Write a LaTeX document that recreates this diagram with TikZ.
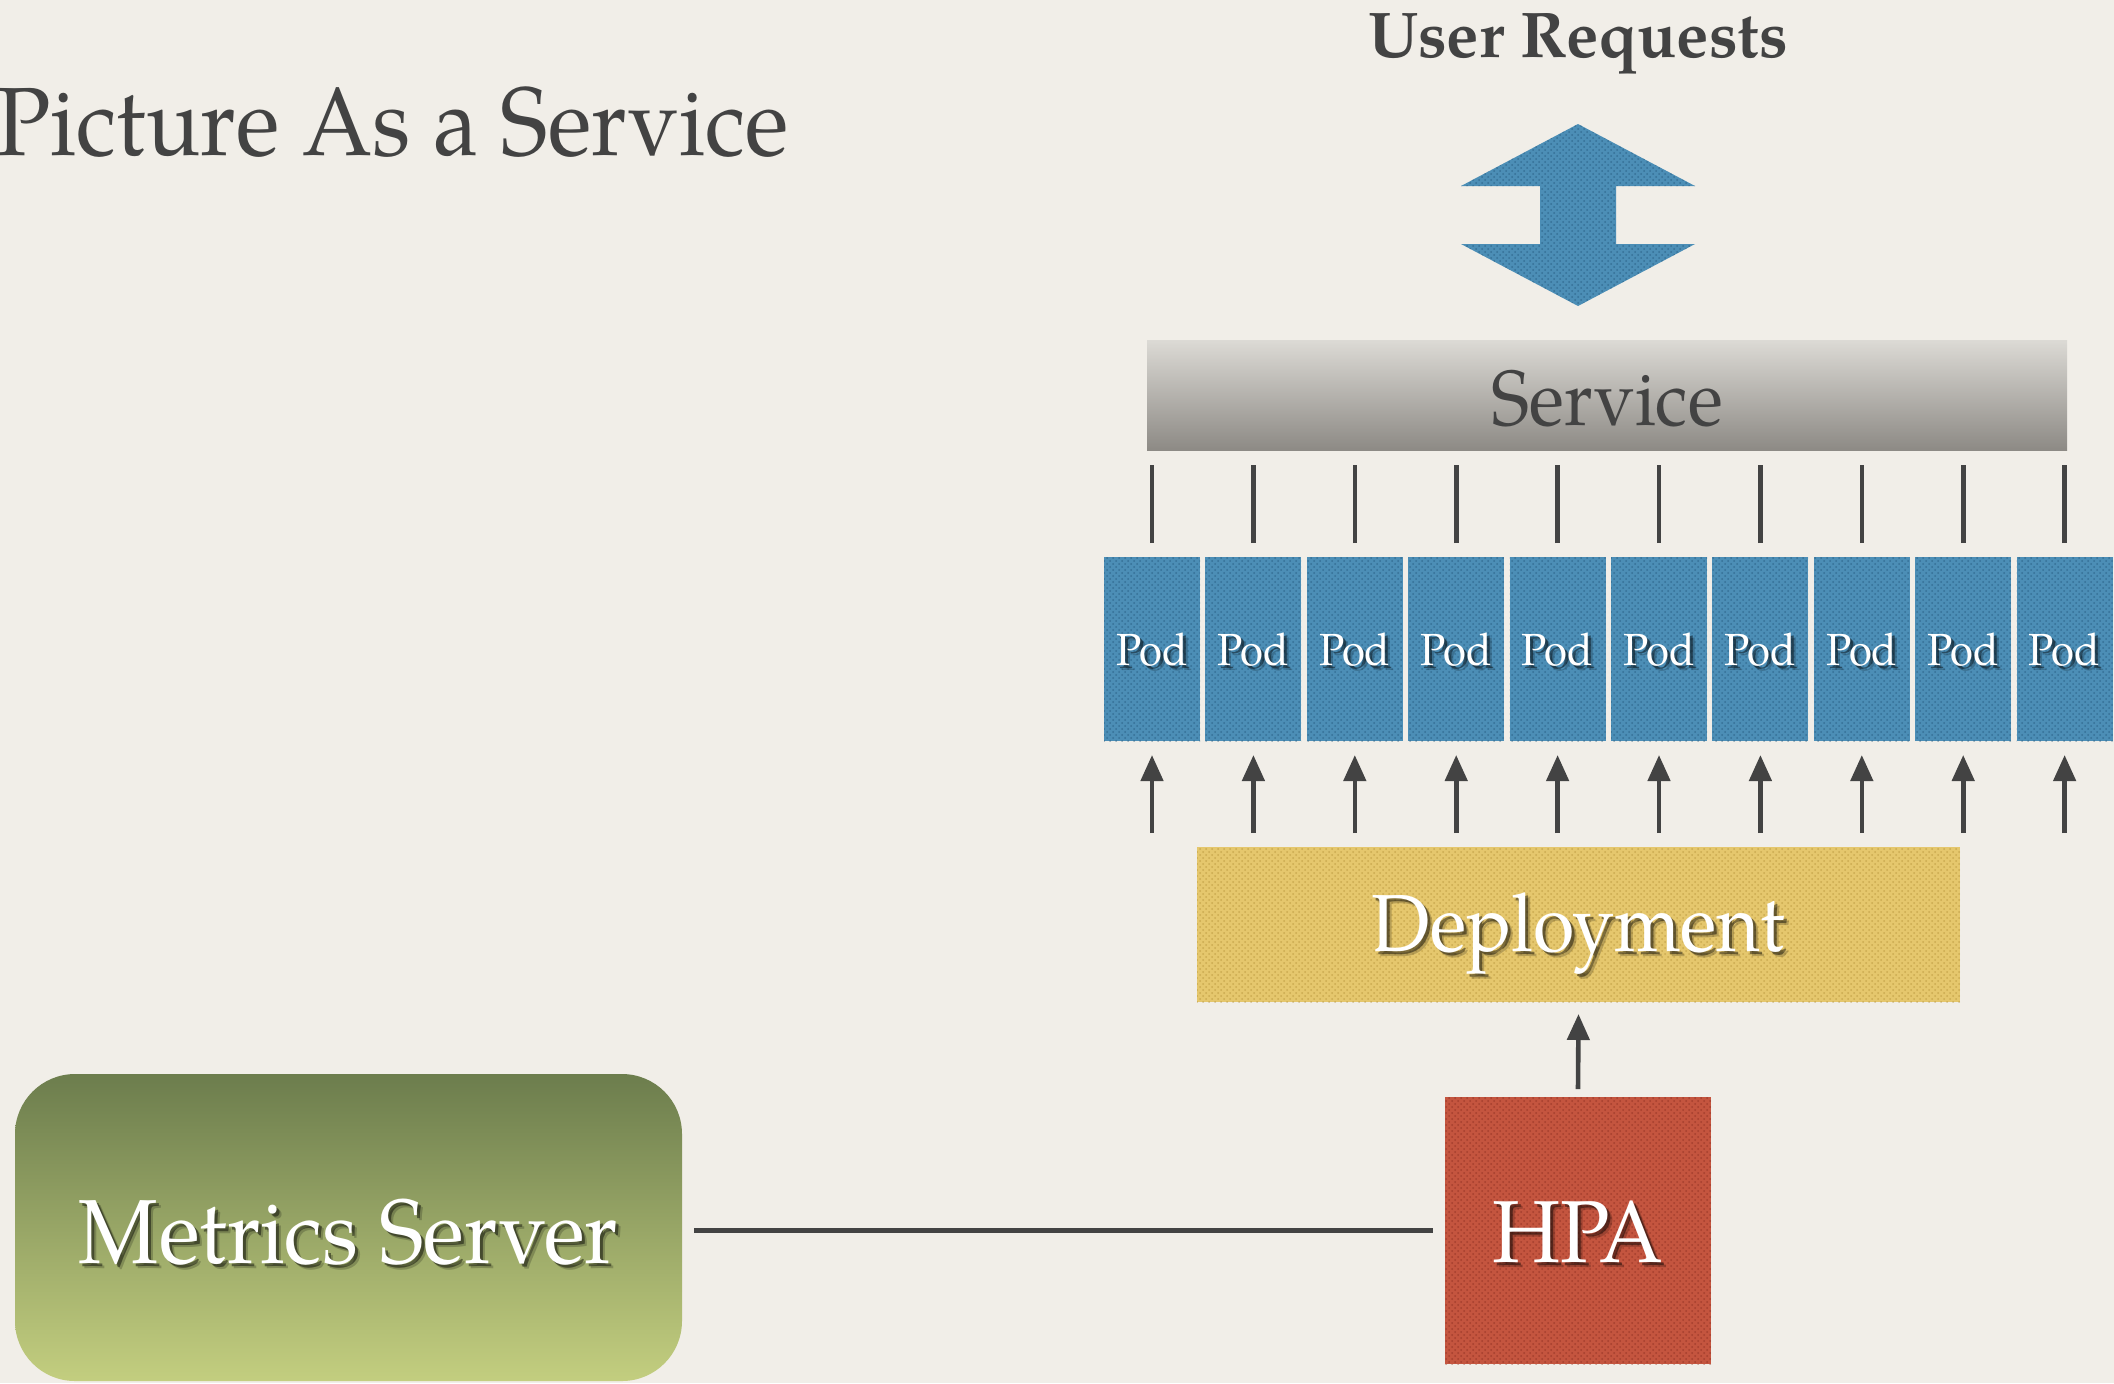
\documentclass[tikz,border=0pt]{standalone}
\usepackage{fontspec}
\setmainfont{texgyrepagella-regular.otf}[BoldFont=texgyrepagella-bold.otf, FakeStretch=0.93, BoldFeatures={FakeStretch=1}]
\usetikzlibrary{arrows.meta,patterns}

\definecolor{paper}{HTML}{F1EEE8}
\definecolor{ink}{HTML}{434343}
\definecolor{podblue}{HTML}{4C8EB6}
\definecolor{poddot}{HTML}{1F5276}
\definecolor{deployyellow}{HTML}{E5C76D}
\definecolor{deploydot}{HTML}{B08C34}
\definecolor{hpared}{HTML}{C4553F}
\definecolor{hpadot}{HTML}{85291C}
\definecolor{greentop}{HTML}{6C7D4D}
\definecolor{greenbot}{HTML}{C3CE7F}
\definecolor{svctop}{HTML}{DCDAD5}
\definecolor{svcbot}{HTML}{8D8A85}

\tikzset{
  box/.style={rectangle, inner sep=0pt, outer sep=0pt},
  dotted fill/.style={postaction={pattern=crosshatch dots, pattern color=#1, fill opacity=0.5}},
  conn/.style={draw=ink, line width=2.3pt},
  arr/.style={conn, -{Triangle[length=13pt, width=11pt]}},
  whitetext/.style={text=white, inner sep=0pt},
}

% white lettering with a soft drop shadow, set in one box
\newcommand{\shadowed}[1]{\leavevmode
  \pgfsetfillopacity{0.2}\rlap{\hspace{2.5pt}\raisebox{-2.5pt}{\color{black}#1}}%
  \pgfsetfillopacity{0.45}\rlap{\hspace{1.5pt}\raisebox{-1.5pt}{\color{black}#1}}%
  \pgfsetfillopacity{1}#1}

\begin{document}
\begin{tikzpicture}[x=0.5pt, y=-0.5pt]
  % page
  \fill[paper] (0,0) rectangle (2114,1383);
  \useasboundingbox (0,0) rectangle (2114,1383);

  % headings
  \node[anchor=base west, inner sep=0pt, text=ink, font=\fontsize{48.5}{58}\selectfont] (title) at (-4,155) {Picture As a Service};
  \node[anchor=base, inner sep=0pt, text=ink, font=\bfseries\fontsize{32.3}{38}\selectfont] (user) at (1578,57) {User Requests};

  % two-way request arrow
  \fill[podblue, dotted fill=poddot]
    (1578,124) -- (1695,186) -- (1616,186) -- (1616,244) -- (1695,244) -- (1578,306)
    -- (1461,244) -- (1540,244) -- (1540,186) -- (1461,186) -- cycle;

  % service bar
  \node[box, minimum width=460pt, minimum height=55pt, top color=svctop, bottom color=svcbot] (svc) at (1607,395) {};
  \node[inner sep=0pt, text=ink, font=\fontsize{39}{47}\selectfont] at ([yshift=-2pt]svc.center) {Service};

  % pods
  \foreach \i in {1,...,10} {
    \node[box, minimum width=48pt, minimum height=92pt, fill=podblue, dotted fill=poddot] (pod\i) at ({1152+(\i-1)*101.4},649) {};
    \node[whitetext, font=\fontsize{22.5}{27}\selectfont] at ([yshift=-1.5pt]pod\i.center) {\shadowed{Pod}};
    \draw[conn] ([yshift=7pt]pod\i.north) -- ([yshift=46pt]pod\i.north);
  }

  % deployment
  \node[box, minimum width=381.5pt, minimum height=77.5pt, fill=deployyellow, dotted fill=deploydot] (deploy) at (1578.5,924.5) {};
  \node[whitetext, font=\fontsize{40.5}{48}\selectfont] at ([yshift=-6pt]deploy.center) {\shadowed{Deployment}};
  \foreach \i in {1,...,10}
    \draw[arr] ([yshift=-46pt]pod\i.south) -- ([yshift=-7pt]pod\i.south);

  % horizontal pod autoscaler
  \node[box, minimum width=133pt, minimum height=133.5pt, fill=hpared, dotted fill=hpadot] (hpa) at (1578,1230.5) {};
  \node[whitetext, font=\fontsize{44}{53}\selectfont] at ([yshift=-2pt]hpa.center) {\shadowed{HPA}};
  \draw[arr] ([yshift=4pt]hpa.north) -- ([yshift=-6pt]deploy.south);

  % metrics server
  \node[box, minimum width=333.5pt, minimum height=153.5pt, rounded corners=30pt, top color=greentop, bottom color=greenbot] (ms) at (348.5,1227.5) {};
  \node[whitetext, font=\fontsize{45.5}{55}\selectfont] at ([yshift=-3.5pt]ms.center) {\shadowed{Metrics Server}};
  \draw[conn] ([xshift=6pt]ms.east |- hpa.west) -- ([xshift=-6pt]hpa.west);
\end{tikzpicture}
\end{document}
